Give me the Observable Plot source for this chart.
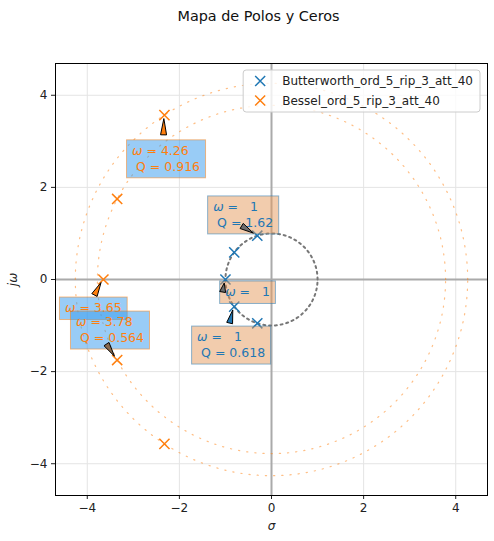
<!DOCTYPE html>
<html><head><meta charset="utf-8">
<script src="https://cdn.jsdelivr.net/npm/d3@7"></script>
<script src="https://cdn.jsdelivr.net/npm/@observablehq/plot@0.6"></script>
<style>
body{margin:0;background:#fff;}
svg{font-family:"DejaVu Sans",sans-serif;}
</style>
</head><body><div id="chart"></div>
<script>
// ---- data ----
const title = "Mapa de Polos y Ceros";
const seriesNames = ["Butterworth_ord_5_rip_3_att_40", "Bessel_ord_5_rip_3_att_40"];
const seriesColors = ["#1f77b4", "#ff7f0e"];
const butterRe = [-0.309, -0.309, -0.809, -0.809, -1.0];
const butterIm = [0.951, -0.951, 0.588, -0.588, 0];
const besselRe = [-2.325, -2.325, -3.351, -3.351, -3.65];
const besselIm = [3.57, -3.57, 1.749, -1.749, 0];
const circleRadius = [1, 4.26, 3.78];
const circleSeries = [0, 1, 1];
const ticks = [-4, -2, 0, 2, 4];
// annotations: series, omega, Q, target pole
const annotSeries = [1, 0, 0, 0, 1, 1];
const annotOmega = [4.26, 1, 1, 1, 3.65, 3.78];
const annotQ = [0.916, 1.62, null, 0.618, null, 0.564];
const annotPoleRe = [-2.325, -0.309, -1.0, -0.809, -3.65, -3.351];
const annotPoleIm = [3.57, 0.951, 0, -0.588, 0, -1.749];
// annotation layout (data units): box top-left and arrow tail
const annotBoxX = [-3.137, -1.376, -1.115, -1.724, -4.593, -4.354];
const annotBoxY = [3.022, 1.804, -0.043, -1.022, -0.391, -0.696];
const annotTailX = [-2.333, -0.637, -1.05, -0.898, -3.833, -3.572];
const annotTailY = [3.13, 1.152, -0.283, -0.957, -0.348, -1.413];
const wedgeFill = ["#ff7f0e", "#6e6e6e", "#6e6e6e", "#1f77b4", "#ff7f0e", "#8a6a4e"];

// ---- tables ----
const butter = butterRe.map((re, i) => ({re, im: butterIm[i]}));
const bessel = besselRe.map((re, i) => ({re, im: besselIm[i]}));
const angles = d3.range(0, 361, 1);
const circles = circleRadius.flatMap((r, k) => angles.map(a => ({
  id: k, s: circleSeries[k],
  x: r * Math.cos(a * Math.PI / 180), y: r * Math.sin(a * Math.PI / 180)
})));
const fmtG = v => String(+(+v).toPrecision(3)).padStart(3, " ");

const ctx = document.createElement("canvas").getContext("2d");
function tw(str, italic) { ctx.font = (italic ? "italic " : "") + "12.5px 'DejaVu Sans'"; return ctx.measureText(str).width; }

function annotationsMark(index, scales) {
  const X = scales.x, Y = scales.y;
  const g = d3.create("svg:g").attr("font-family", "DejaVu Sans").attr("font-size", 12.5).attr("text-anchor", "start");
  annotOmega.forEach((w, i) => {
    const col = seriesColors[annotSeries[i]];
    const boxCol = annotSeries[i] === 1 ? "#3399ee" : "#e59a5c";
    const edgeCol = annotSeries[i] === 1 ? "#ff7f0e" : "#1f77b4";
    const l1b = " = " + fmtG(w);
    const lines = [l1b];
    if (annotQ[i] != null) lines.push(" Q = " + fmtG(annotQ[i]));
    const w1 = tw("ω", true) + tw(l1b);
    const wmax = Math.max(w1, ...(lines.length > 1 ? [tw(lines[1])] : [0]));
    const bx = X(annotBoxX[i]), by = Y(annotBoxY[i]);
    const lh = 15.5, padX = 5.5, padY = 3.5;
    const bw = wmax + 2 * padX, bh = lines.length * lh + 2 * padY;
    const grp = g.append("g");
    grp.append("rect").attr("x", bx).attr("y", by).attr("width", bw).attr("height", bh)
      .attr("fill", boxCol).attr("fill-opacity", 0.5)
      .attr("stroke", edgeCol).attr("stroke-opacity", 0.5).attr("stroke-width", 1);
    const t1 = grp.append("text").attr("x", bx + padX).attr("y", by + padY + 11.8)
      .attr("fill", col).style("white-space", "pre");
    t1.append("tspan").attr("font-style", "italic").text("ω");
    t1.append("tspan").text(l1b);
    if (lines.length > 1) {
      grp.append("text").attr("x", bx + padX).attr("y", by + padY + 11.8 + lh)
        .attr("fill", col).style("white-space", "pre").text(lines[1]);
    }
    // wedge arrow
    const tx = X(annotTailX[i]), ty = Y(annotTailY[i]);
    const px = X(annotPoleRe[i]), py = Y(annotPoleIm[i]);
    let dx = px - tx, dy = py - ty; const L = Math.hypot(dx, dy); dx /= L; dy /= L;
    const shrink = 4, hw = 3;
    const tipx = px - dx * shrink, tipy = py - dy * shrink;
    const nx = -dy, ny = dx;
    const pts = [[tipx, tipy], [tx + nx * hw, ty + ny * hw], [tx - nx * hw, ty - ny * hw]];
    grp.append("path").attr("d", "M" + pts.map(p => p.join(",")).join("L") + "Z")
      .attr("fill", wedgeFill[i]).attr("stroke", "black").attr("stroke-width", 1)
      .attr("stroke-linejoin", "miter");
  });
  return g.node();
}

function legendMark(index, scales, values, dims) {
  const g = d3.create("svg:g").attr("font-family", "DejaVu Sans").attr("font-size", 12).attr("text-anchor", "start");
  ctx.font = "12px 'DejaVu Sans'";
  const textW = Math.max(...seriesNames.map(s => ctx.measureText(s).width));
  const bw = textW + 46, bh = 42;
  const right = dims.width - dims.marginRight - 7, top = dims.marginTop + 7;
  const left = right - bw;
  g.append("rect").attr("x", left).attr("y", top).attr("width", bw).attr("height", bh)
    .attr("rx", 3).attr("fill", "white").attr("fill-opacity", 0.8).attr("stroke", "#cccccc");
  seriesNames.forEach((s, i) => {
    const cy = top + 11 + i * 19.5, cx = left + 17;
    g.append("path").attr("d", `M${cx-5},${cy-5}L${cx+5},${cy+5}M${cx-5},${cy+5}L${cx+5},${cy-5}`)
      .attr("stroke", seriesColors[i]).attr("stroke-width", 1.5);
    g.append("text").attr("x", left + 39).attr("y", cy).attr("dy", "0.35em").attr("fill", "#222").text(s);
  });
  return g.node();
}

const plot = Plot.plot({
  width: 494, height: 541,
  marginLeft: 55, marginRight: 7, marginTop: 63, marginBottom: 46,
  style: {fontFamily: "DejaVu Sans", fontSize: "12px", background: "white", color: "#222"},
  x: {domain: [-4.69, 4.69], ticks: ticks, tickSize: 4, tickPadding: 4, label: "σ", labelAnchor: "center", labelOffset: 34, labelArrow: "none"},
  y: {domain: [-4.69, 4.69], ticks: ticks, tickSize: 4, tickPadding: 4, label: "jω", labelAnchor: "center", labelOffset: 47, labelArrow: "none"},
  marks: [
    Plot.gridX(ticks, {stroke: "#e4e4e4", strokeOpacity: 1}),
    Plot.gridY(ticks, {stroke: "#e4e4e4", strokeOpacity: 1}),
    Plot.ruleX([0], {stroke: "#aaaaaa", strokeWidth: 2}),
    Plot.ruleY([0], {stroke: "#aaaaaa", strokeWidth: 2}),
    Plot.line(circles.filter(d => d.s === 1), {x: "x", y: "y", z: "id", stroke: seriesColors[1], strokeOpacity: 0.5, strokeWidth: 1.2, strokeDasharray: "1.2,7"}),
    Plot.line(circles.filter(d => d.s === 0), {x: "x", y: "y", z: "id", stroke: "#777777", strokeWidth: 2, strokeDasharray: "2,3.8"}),
    Plot.dot(butter, {x: "re", y: "im", symbol: "times", r: 4.7, stroke: seriesColors[0], strokeWidth: 1.5}),
    Plot.dot(bessel, {x: "re", y: "im", symbol: "times", r: 4.7, stroke: seriesColors[1], strokeWidth: 1.5}),
    annotationsMark,
    legendMark,
    Plot.frame({stroke: "black", strokeWidth: 1}),
    Plot.text([title], {frameAnchor: "top", dx: -13, dy: -53, fontSize: 14.4, fill: "#111"})
  ]
});
d3.select(plot).selectAll('[aria-label="x-axis label"] text, [aria-label="y-axis label"] text').style("font-style", "italic");
document.getElementById("chart").appendChild(plot);
</script>
</body></html>
